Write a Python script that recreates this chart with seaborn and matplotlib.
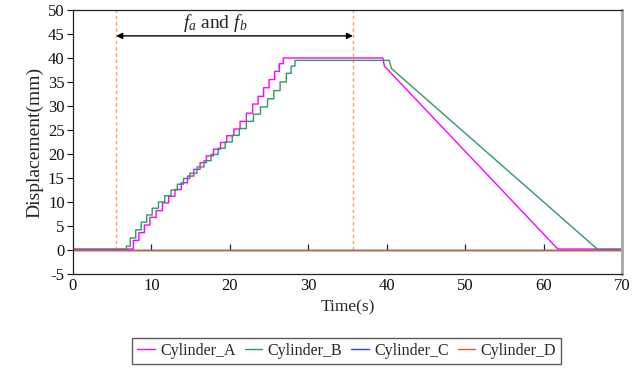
import numpy as np
import pandas as pd
import matplotlib
matplotlib.use("Agg")
import matplotlib.pyplot as plt
import seaborn as sns

# ---- data -------------------------------------------------------------
# Cylinder_A: baseline, staircase rise (time of each rise, level reached),
# hold, and linear retraction.
a_base = 0.2
a_rise_t = [7.7, 8.4, 9.1, 9.8, 10.6, 11.4, 12.2, 13.0, 13.8, 14.6,
            15.4, 16.2, 17.0, 17.9, 18.8, 19.6, 20.5, 21.3, 22.1, 22.9,
            23.6, 24.3, 25.0, 25.7, 26.3, 26.8]
a_rise_v = [2.0, 3.6, 5.2, 6.8, 8.2, 9.8, 11.2, 12.6, 14.0, 15.4,
            16.8, 18.2, 19.6, 21.0, 22.4, 23.8, 25.2, 26.8, 28.5, 30.4,
            32.0, 33.8, 35.5, 37.2, 38.8, 40.0]
a_fall_t = [39.5, 39.7, 61.8, 70.0]
a_fall_v = [40.0, 38.3, 0.2, 0.2]

# Cylinder_B
b_base = 0.1
b_rise_t = [6.8, 7.3, 8.0, 8.7, 9.4, 10.1, 10.9, 11.7, 12.5, 13.3,
            14.1, 14.9, 15.8, 16.7, 17.6, 18.5, 19.4, 20.3, 21.2, 22.1,
            23.0, 23.9, 24.8, 25.6, 26.4, 27.2, 27.8, 28.3]
b_rise_v = [0.8, 2.5, 4.2, 5.8, 7.3, 8.7, 10.0, 11.3, 12.5, 13.7,
            14.9, 16.0, 17.3, 18.6, 19.9, 21.2, 22.5, 23.9, 25.3, 26.8,
            28.3, 29.8, 31.5, 33.2, 35.0, 36.8, 38.3, 39.5]
b_fall_t = [40.3, 40.6, 66.9, 70.0]
b_fall_v = [39.5, 37.8, 0.1, 0.1]

# Cylinder_C and Cylinder_D stay at rest
c_t = [0.0, 70.0]
c_v = [0.0, 0.0]
d_t = [0.0, 70.0]
d_v = [-0.05, -0.05]

# f_a / f_b window
window = [5.5, 35.7]

cylinders = ["Cylinder_A", "Cylinder_B", "Cylinder_C", "Cylinder_D"]
colors = ["#FF00FF", "#2E9A62", "#3A3AF5", "#C8642E"]
xticks = list(range(0, 71, 10))
yticks = list(range(-5, 51, 5))


def staircase(base, rise_t, rise_v, fall_t, fall_v):
    """Corner points of a step rise followed by the retraction path."""
    t, v = [0.0], [base]
    prev = base
    for ti, vi in zip(rise_t, rise_v):
        t += [ti, ti]
        v += [prev, vi]
        prev = vi
    t += fall_t
    v += fall_v
    return t, v


ta, va = staircase(a_base, a_rise_t, a_rise_v, a_fall_t, a_fall_v)
tb, vb = staircase(b_base, b_rise_t, b_rise_v, b_fall_t, b_fall_v)

frames = []
for name, t, v in zip(cylinders, [ta, tb, c_t, d_t], [va, vb, c_v, d_v]):
    frames.append(pd.DataFrame({"Time": t, "Displacement": v, "Cylinder": name}))
df = pd.concat(frames, ignore_index=True)

# ---- figure -----------------------------------------------------------
sns.set_theme(style="white")
plt.rcParams["font.family"] = ["Liberation Serif", "DejaVu Serif"]
plt.rcParams["mathtext.fontset"] = "custom"
plt.rcParams["mathtext.rm"] = "Liberation Serif"
plt.rcParams["mathtext.it"] = "Liberation Serif:italic"
plt.rcParams["axes.unicode_minus"] = False

fig = plt.figure(figsize=(6.42, 3.69), dpi=100)
ax = fig.add_axes([0.1137, 0.2575, 0.8553, 0.7155])

# window markers
ax.vlines(window, 0, 50, colors="#FFA060", linestyles=(0, (2.5, 2)), lw=1.0, zorder=1)

sns.lineplot(data=df, x="Time", y="Displacement", hue="Cylinder",
             hue_order=cylinders, palette=colors, estimator=None, sort=False,
             lw=1.0, ax=ax, legend=False)

ax.annotate("", xy=(window[0], 44.6), xytext=(window[1], 44.6),
            arrowprops=dict(arrowstyle="<|-|>", color="black", lw=1.0,
                            mutation_scale=9, shrinkA=0, shrinkB=0))
ax.text(18.1, 47.2, r"$f_a$ and $f_b$", ha="center", va="center", fontsize=14)

ax.set_xlim(0, 70)
ax.set_ylim(-5, 50)
ax.set_xticks(xticks)
ax.set_yticks(yticks)
ax.tick_params(axis="x", length=0, pad=3, labelsize=12, colors="#111111")
ax.tick_params(axis="y", direction="out", length=4, width=0.8, pad=2,
               labelsize=12, left=True, colors="#111111")
ax.set_xlabel("Time(s)", fontsize=12.5, labelpad=4)
ax.set_ylabel("Displacement(mm)", fontsize=14, labelpad=3)

for side in ["left", "top", "bottom"]:
    ax.spines[side].set_color("#222222")
    ax.spines[side].set_linewidth(0.9)
ax.spines["right"].set_color("#A8A8A8")
ax.spines["right"].set_linewidth(2.0)

# horizontal axis crossing at zero, with its tick marks pointing up
zero_axis = ax.secondary_xaxis(5 / 55)
zero_axis.set_xticks(xticks[1:-1])
zero_axis.tick_params(axis="x", direction="in", length=4, width=0.9,
                      labelbottom=False, colors="#222222")
zero_axis.spines["bottom"].set_color("#222222")
zero_axis.spines["bottom"].set_linewidth(0.8)

handles = [plt.Line2D([], [], color=c, lw=1.0) for c in colors]
leg = fig.legend(handles, cylinders, loc="center", bbox_to_anchor=(0.54, 0.049),
                 ncol=4, fontsize=11.5, frameon=True, fancybox=False,
                 edgecolor="#333333", handlelength=1.1, handletextpad=0.35,
                 columnspacing=0.55, borderpad=0.3)
leg.get_frame().set_linewidth(1.0)

fig.savefig("out.png", dpi=100)
